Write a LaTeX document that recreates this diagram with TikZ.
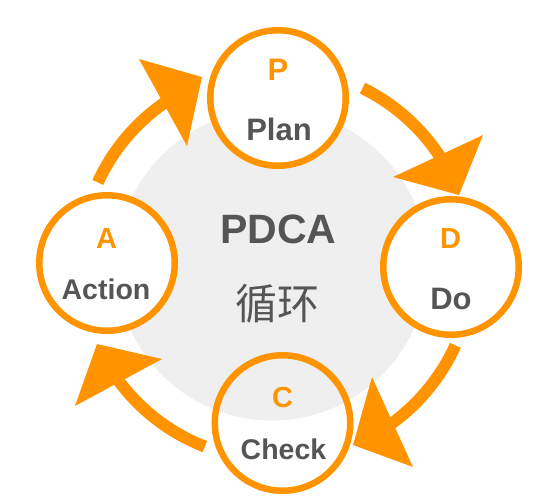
\documentclass[tikz,border=0pt]{standalone}
\usepackage{fontspec}
\setmainfont{Liberation Sans}
\newfontfamily\cjkfont{Noto Sans CJK SC}
\definecolor{orng}{RGB}{255,148,0}
\definecolor{txtgrey}{RGB}{85,85,85}
\definecolor{bggrey}{RGB}{239,239,239}
\begin{document}
\begin{tikzpicture}[x=1pt,y=-1pt,
  ring/.style={circle, draw=orng, line width=6.5pt, minimum size=135.5pt, inner sep=0pt},
  lettertxt/.style={anchor=base, inner sep=0pt, text=orng, font=\fontsize{29}{29}\selectfont\bfseries},
  nametxt/.style={anchor=base, inner sep=0pt, text=txtgrey, font=\fontsize{30}{30}\selectfont\bfseries},
  shaft/.style={draw=orng, line width=12pt, line cap=butt},
  headtri/.style={fill=orng}]
\useasboundingbox (0,0) rectangle (557,501);
% background disc
\fill[bggrey] (272,265) circle[radius=155.5];
% centre of the arrow ring
\coordinate (O) at (276,264);
% shafts
\draw[shaft] ([shift={(O)}]-155.4:196) arc[start angle=-155.4, end angle=-122, radius=196];
\draw[shaft] ([shift={(O)}]-63.8:196) arc[start angle=-63.8, end angle=-31, radius=196];
\draw[shaft] ([shift={(O)}]24.4:197) arc[start angle=24.4, end angle=56, radius=197];
\draw[shaft] ([shift={(O)}]-248.7:196) arc[start angle=-248.7, end angle=-214.5, radius=196];
% heads
\fill[headtri] (139,59) -- (202,77) -- (187,146) -- cycle;
\fill[headtri] (483,135) -- (459,195) -- (393,177) -- cycle;
\fill[headtri] (372,377) -- (413,467) -- (353,445) -- cycle;
\fill[headtri] (162,359) -- (75,406) -- (97,344) -- cycle;
% circles
\node[ring, fill=white] (P) at (278,98) {};
\node[ring, fill=white] (D) at (451,267) {};
\node[ring] (C) at (282.5,423) {};
\node[ring, fill=white] (A) at (107,263) {};
% texts
\node[lettertxt, font=\fontsize{31}{31}\selectfont\bfseries] (Pl) at (278,80) {P};
\node[nametxt, font=\fontsize{31}{31}\selectfont\bfseries] (Pn) at (279,140) {Plan};
\node[lettertxt] (Dl) at (450.5,248) {D};
\node[nametxt, font=\fontsize{31}{31}\selectfont\bfseries] (Dn) at (451,309) {Do};
\node[lettertxt] (Cl) at (282.5,407.5) {C};
\node[nametxt, font=\fontsize{28.5}{28.5}\selectfont\bfseries] (Cn) at (283.5,459) {Check};
\node[lettertxt] (Al) at (106.5,248) {A};
\node[nametxt, font=\fontsize{28.5}{28.5}\selectfont\bfseries] (An) at (106,299) {Action};
\node[anchor=base, inner sep=0pt, text=txtgrey, font=\fontsize{41}{41}\selectfont\bfseries] (T1) at (278.5,243) {PDCA};
\node[anchor=base, inner sep=0pt, text=txtgrey, font=\fontsize{42}{42}\selectfont\cjkfont] (T2) at (277.5,319.5) {循环};
\end{tikzpicture}
\end{document}
